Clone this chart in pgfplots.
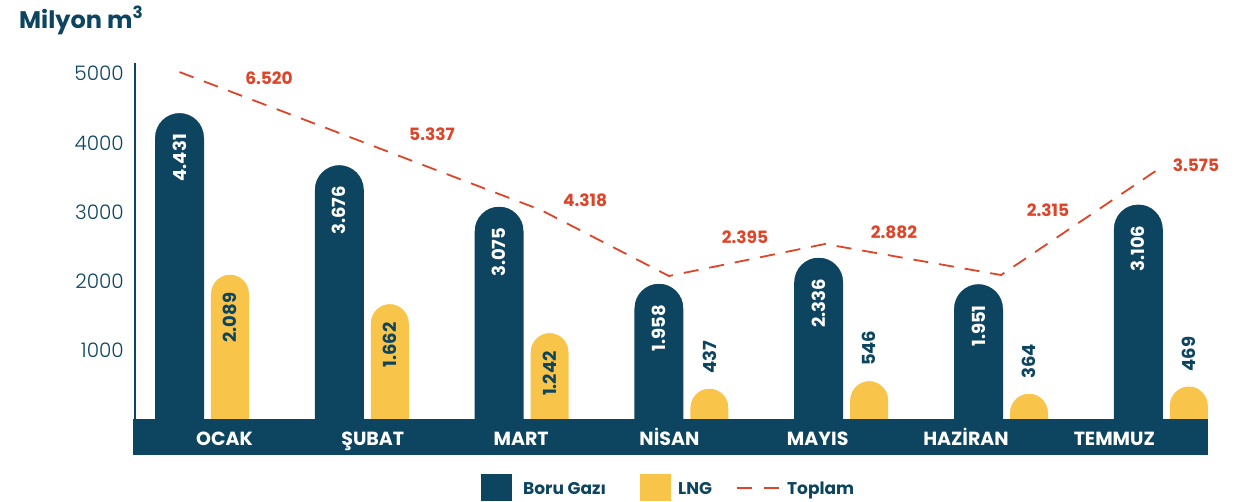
\documentclass[border=0pt]{standalone}
\usepackage{fontspec}
\setmainfont{Poppins}
\newfontfamily\lightfont{Poppins Light}
\usepackage{pgfplots}
\pgfplotsset{compat=1.18}
\definecolor{dark}{HTML}{0D4560}
\definecolor{gold}{HTML}{F9C44A}
\definecolor{tred}{HTML}{DE4427}

% white corner masks that round the top of a bar
\pgfdeclareplotmark{capmask}{%
  \pgfpathmoveto{\pgfpoint{-\pgfplotmarksize-1pt}{1pt}}%
  \pgfpathlineto{\pgfpoint{-\pgfplotmarksize-1pt}{-\pgfplotmarksize}}%
  \pgfpathlineto{\pgfpoint{-\pgfplotmarksize}{-\pgfplotmarksize}}%
  \pgfpatharc{180}{90}{\pgfplotmarksize}%
  \pgfpatharc{90}{0}{\pgfplotmarksize}%
  \pgfpathlineto{\pgfpoint{\pgfplotmarksize+1pt}{-\pgfplotmarksize}}%
  \pgfpathlineto{\pgfpoint{\pgfplotmarksize+1pt}{1pt}}%
  \pgfpathclose
  \pgfusepathqfill
}

\pgfplotstableread{
x y
0 4431
1 3676
2 3075
3 1958
4 2336
5 1951
6 3106
}\boru

\pgfplotstableread{
x y
0.316 2089
1.316 1662
2.316 1242
}\lngtall

\pgfplotstableread{
x y
3.316 437
4.316 546
5.316 364
6.316 469
}\lngshort

% dashed total line, as drawn in the picture
\pgfplotstableread{
x y
0     5025
2.262 3025
3.063 2069
4.039 2533
5.141 2083
6.155 3663
}\toplamline

\pgfplotstableread{
x y lab
0.560 4938 6.520
1.580 4127 5.337
2.538 3170 4.318
3.539 2634 2.395
4.471 2706 2.882
5.435 3025 2.315
6.361 3677 3.575
}\toplamlab

\begin{document}
\begin{tikzpicture}
\begin{axis}[
  x=159.8pt, y=0.069pt,
  xmin=-0.291, xmax=6.436,
  ymin=-529, ymax=5156,
  clip=false,
  axis on top,
  axis line style={draw=none},
  major tick length=0pt,
  xtick={0.2816,1.2096,2.1377,3.0657,3.9937,4.9218,5.8498},
  xticklabels={OCAK,ŞUBAT,MART,NİSAN,MAYIS,HAZİRAN,TEMMUZ},
  xticklabel style={anchor=base, yshift=9.7pt, inner sep=0pt,
    font=\bfseries\fontsize{19}{19}\selectfont, text=white},
  ytick={1000,2000,3000,4000,5000},
  yticklabels={1000,2000,3000,4000,5000},
  yticklabel style={anchor=east, inner sep=0pt, xshift=-9pt,
    font=\lightfont\fontsize{20}{20}\selectfont, text=dark},
]

% month band (bars start on its top edge)
\fill[dark] (axis cs:-0.291,-529) rectangle (axis cs:6.436,0);

% bars
\addplot[ybar, bar width=49pt, bar shift=0pt, fill=dark, draw=none,
  mark=capmask, mark size=24.5pt, mark options={fill=white, draw=none},
  nodes near coords={\pgfmathprintnumber[fixed,precision=0,1000 sep={.},assume math mode=true]{\pgfplotspointmeta}},
  nodes near coords style={font=\bfseries\fontsize{18}{18}\selectfont, text=white,
    inner sep=0pt, yshift=-21pt, rotate=90, anchor=east}]
  table[x=x, y=y] {\boru};

\addplot[ybar, bar width=38pt, bar shift=0pt, fill=gold, draw=none,
  mark=capmask, mark size=19pt, mark options={fill=white, draw=none},
  nodes near coords={\pgfmathprintnumber[fixed,precision=0,1000 sep={.},assume math mode=true]{\pgfplotspointmeta}},
  nodes near coords style={font=\bfseries\fontsize{18}{18}\selectfont, text=dark,
    inner sep=0pt, yshift=-18pt, rotate=90, anchor=east}]
  table[x=x, y=y] {\lngtall};

\addplot[ybar, bar width=38pt, bar shift=0pt, fill=gold, draw=none,
  mark=capmask, mark size=19pt, mark options={fill=white, draw=none},
  nodes near coords={\pgfmathprintnumber[fixed,precision=0,1000 sep={.},assume math mode=true]{\pgfplotspointmeta}},
  nodes near coords style={font=\bfseries\fontsize{18}{18}\selectfont, text=dark,
    inner sep=0pt, yshift=15pt, rotate=90, anchor=west}]
  table[x=x, y=y] {\lngshort};

% y axis line
\draw[dark, line width=2.5pt] (axis cs:-0.278,0) -- (axis cs:-0.278,5156);

% total line
\addplot[tred, line width=1.8pt, dash pattern=on 15pt off 11pt, mark=none]
  table[x=x, y=y] {\toplamline};

\addplot[draw=none, mark=none, nodes near coords, point meta=explicit symbolic,
  nodes near coords style={anchor=center, inner sep=0pt, text=tred,
    font=\bfseries\fontsize{17}{17}\selectfont}]
  table[x=x, y=y, meta=lab] {\toplamlab};

% title
\node[anchor=base west, inner sep=0pt, text=dark, font=\bfseries\fontsize{24}{24}\selectfont]
  at (axis cs:-1.0044,5663) {Milyon m\textsuperscript{3}};

% legend
\fill[dark] (axis cs:1.8867,-800) rectangle (axis cs:2.0807,-1192);
\node[anchor=base west, inner sep=0pt, text=dark, font=\bfseries\fontsize{17}{17}\selectfont]
  at (axis cs:2.1496,-1091) {Boru Gazı};
\fill[gold] (axis cs:2.8817,-800) rectangle (axis cs:3.0757,-1192);
\node[anchor=base west, inner sep=0pt, text=dark, font=\bfseries\fontsize{17}{17}\selectfont]
  at (axis cs:3.1196,-1091) {LNG};
\draw[tred, line width=2pt] (axis cs:3.4887,-1000) -- (axis cs:3.5826,-1000)
  (axis cs:3.6577,-1000) -- (axis cs:3.7516,-1000);
\node[anchor=base west, inner sep=0pt, text=dark, font=\bfseries\fontsize{17}{17}\selectfont]
  at (axis cs:3.8013,-1091) {Toplam};

% canvas
\path (axis cs:-1.1233,6069) rectangle (axis cs:6.7115,-1192);
\end{axis}
\end{tikzpicture}
\end{document}
